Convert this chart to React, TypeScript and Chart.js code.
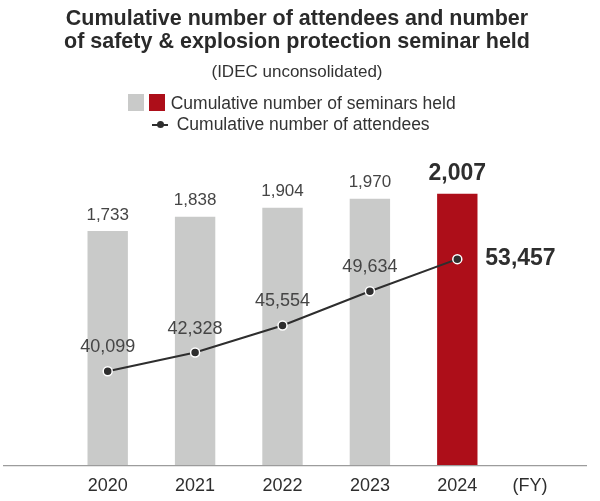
import React, { useEffect, useRef } from "react";
import { Chart, registerables } from "chart.js";

Chart.register(...registerables);

// fiscal years and values
const categories = ["2020", "2021", "2022", "2023", "2024"];
const seminarsHeld = [1733, 1838, 1904, 1970, 2007];
const attendees = [40099, 42328, 45554, 49634, 53457];
const unitLabel = "(FY)";

const FONT = '"Liberation Sans", Arial, sans-serif';
const GRAY = "#c9cac9";
const RED = "#ad0e19";
const DARK = "#2e2e2e";
const LABEL = "#454545";

const fmt = (v: number) => v.toLocaleString("en-US");

const labelsPlugin = {
    id: "valueLabels",
    afterDatasetsDraw(chart: Chart) {
        const ctx = chart.ctx;
        const last = categories.length - 1;
        ctx.save();
        ctx.textBaseline = "middle";

        const barMeta = chart.getDatasetMeta(0);
        barMeta.data.forEach((el: any, i: number) => {
            ctx.textAlign = "center";
            if (i === last) {
                ctx.font = `bold 23px ${FONT}`;
                ctx.fillStyle = DARK;
                ctx.fillText(fmt(seminarsHeld[i]), el.x, el.y - 20);
            } else {
                ctx.font = `17px ${FONT}`;
                ctx.fillStyle = LABEL;
                ctx.fillText(fmt(seminarsHeld[i]), el.x, el.y - 16);
            }
        });

        const lineMeta = chart.getDatasetMeta(1);
        lineMeta.data.forEach((el: any, i: number) => {
            if (i === last) {
                ctx.font = `bold 23px ${FONT}`;
                ctx.fillStyle = DARK;
                ctx.textAlign = "left";
                ctx.fillText(fmt(attendees[i]), el.x + 28, el.y);
            } else {
                ctx.font = `18px ${FONT}`;
                ctx.fillStyle = LABEL;
                ctx.textAlign = "center";
                ctx.fillText(fmt(attendees[i]), el.x, el.y - 24);
            }
        });
        ctx.restore();
    },
};

const axisPlugin = {
    id: "baseAxis",
    afterDatasetsDraw(chart: Chart) {
        const ctx = chart.ctx;
        const y = chart.chartArea.bottom;
        ctx.save();
        ctx.strokeStyle = "#9c9c9c";
        ctx.lineWidth = 1.2;
        ctx.beginPath();
        ctx.moveTo(3, y);
        ctx.lineTo(587, y);
        ctx.stroke();
        ctx.font = `18px ${FONT}`;
        ctx.fillStyle = DARK;
        ctx.textAlign = "center";
        ctx.textBaseline = "middle";
        ctx.fillText(unitLabel, 530, y + 20.8);
        ctx.restore();
    },
};

const App: React.FC = () => {
    const canvasRef = useRef<HTMLCanvasElement | null>(null);

    useEffect(() => {
        if (!canvasRef.current) return;
        const chart = new Chart(canvasRef.current, {
            type: "bar",
            data: {
                labels: categories,
                datasets: [
                    {
                        type: "bar",
                        label: "Cumulative number of seminars held",
                        data: seminarsHeld,
                        backgroundColor: categories.map((_, i) => (i === categories.length - 1 ? RED : GRAY)),
                        borderWidth: 0,
                        yAxisID: "y",
                        categoryPercentage: 1,
                        barPercentage: 0.462,
                        order: 2,
                    },
                    {
                        type: "line",
                        label: "Cumulative number of attendees",
                        data: attendees,
                        borderColor: DARK,
                        borderWidth: 2,
                        pointBackgroundColor: DARK,
                        pointBorderColor: "#ffffff",
                        pointBorderWidth: 1.5,
                        pointRadius: 4.5,
                        tension: 0,
                        yAxisID: "y1",
                        order: 1,
                    } as any,
                ],
            },
            options: {
                responsive: false,
                animation: false,
                layout: { padding: { left: 64, right: 99, top: 140.5, bottom: -6.3 } },
                plugins: {
                    legend: { display: false },
                    tooltip: { enabled: false },
                    title: { display: false },
                },
                scales: {
                    x: {
                        type: "category",
                        offset: true,
                        grid: { display: false, drawTicks: false },
                        border: { display: false },
                        ticks: {
                            color: DARK,
                            font: { size: 18, family: FONT },
                            padding: 10,
                            maxRotation: 0,
                            autoSkip: false,
                        },
                    },
                    y: { display: false, min: 0, max: 2400 },
                    y1: { display: false, min: 28850, max: 67590, position: "right" },
                },
            },
            plugins: [axisPlugin, labelsPlugin],
        });
        return () => {
            chart.destroy();
        };
    }, []);

    const text: React.CSSProperties = { position: "absolute", whiteSpace: "nowrap", fontFamily: FONT };

    return (
        <div style={{ position: "absolute", left: 0, top: 0, width: 600, height: 501, background: "#fff" }}>
            <canvas ref={canvasRef} width={600} height={501} style={{ position: "absolute", left: 0, top: 0 }} />
            <div
                style={{
                    ...text,
                    left: 0,
                    width: 594,
                    top: 7.4,
                    textAlign: "center",
                    fontWeight: "bold",
                    fontSize: 21.5,
                    lineHeight: "22.3px",
                    color: "#2a2a2a",
                }}
            >
                Cumulative number of attendees and number
                <br />
                of safety &amp; explosion protection seminar held
            </div>
            <div
                style={{
                    ...text,
                    left: 0,
                    width: 594,
                    top: 61.6,
                    textAlign: "center",
                    fontSize: 17,
                    lineHeight: "20px",
                    color: "#333",
                }}
            >
                (IDEC unconsolidated)
            </div>
            <div style={{ position: "absolute", left: 128.3, top: 94, width: 16, height: 16.7, background: GRAY }} />
            <div style={{ position: "absolute", left: 149.3, top: 94, width: 16, height: 16.7, background: RED }} />
            <div style={{ ...text, left: 170.7, top: 92.9, fontSize: 17.5, lineHeight: "20px", color: "#333" }}>
                Cumulative number of seminars held
            </div>
            <div style={{ position: "absolute", left: 152.3, top: 123.7, width: 16, height: 2, background: DARK }} />
            <div
                style={{
                    position: "absolute",
                    left: 156.8,
                    top: 121.2,
                    width: 7,
                    height: 7,
                    borderRadius: "50%",
                    background: DARK,
                }}
            />
            <div style={{ ...text, left: 176.7, top: 113.9, fontSize: 17.5, lineHeight: "20px", color: "#333" }}>
                Cumulative number of attendees
            </div>
        </div>
    );
};

export default App;
